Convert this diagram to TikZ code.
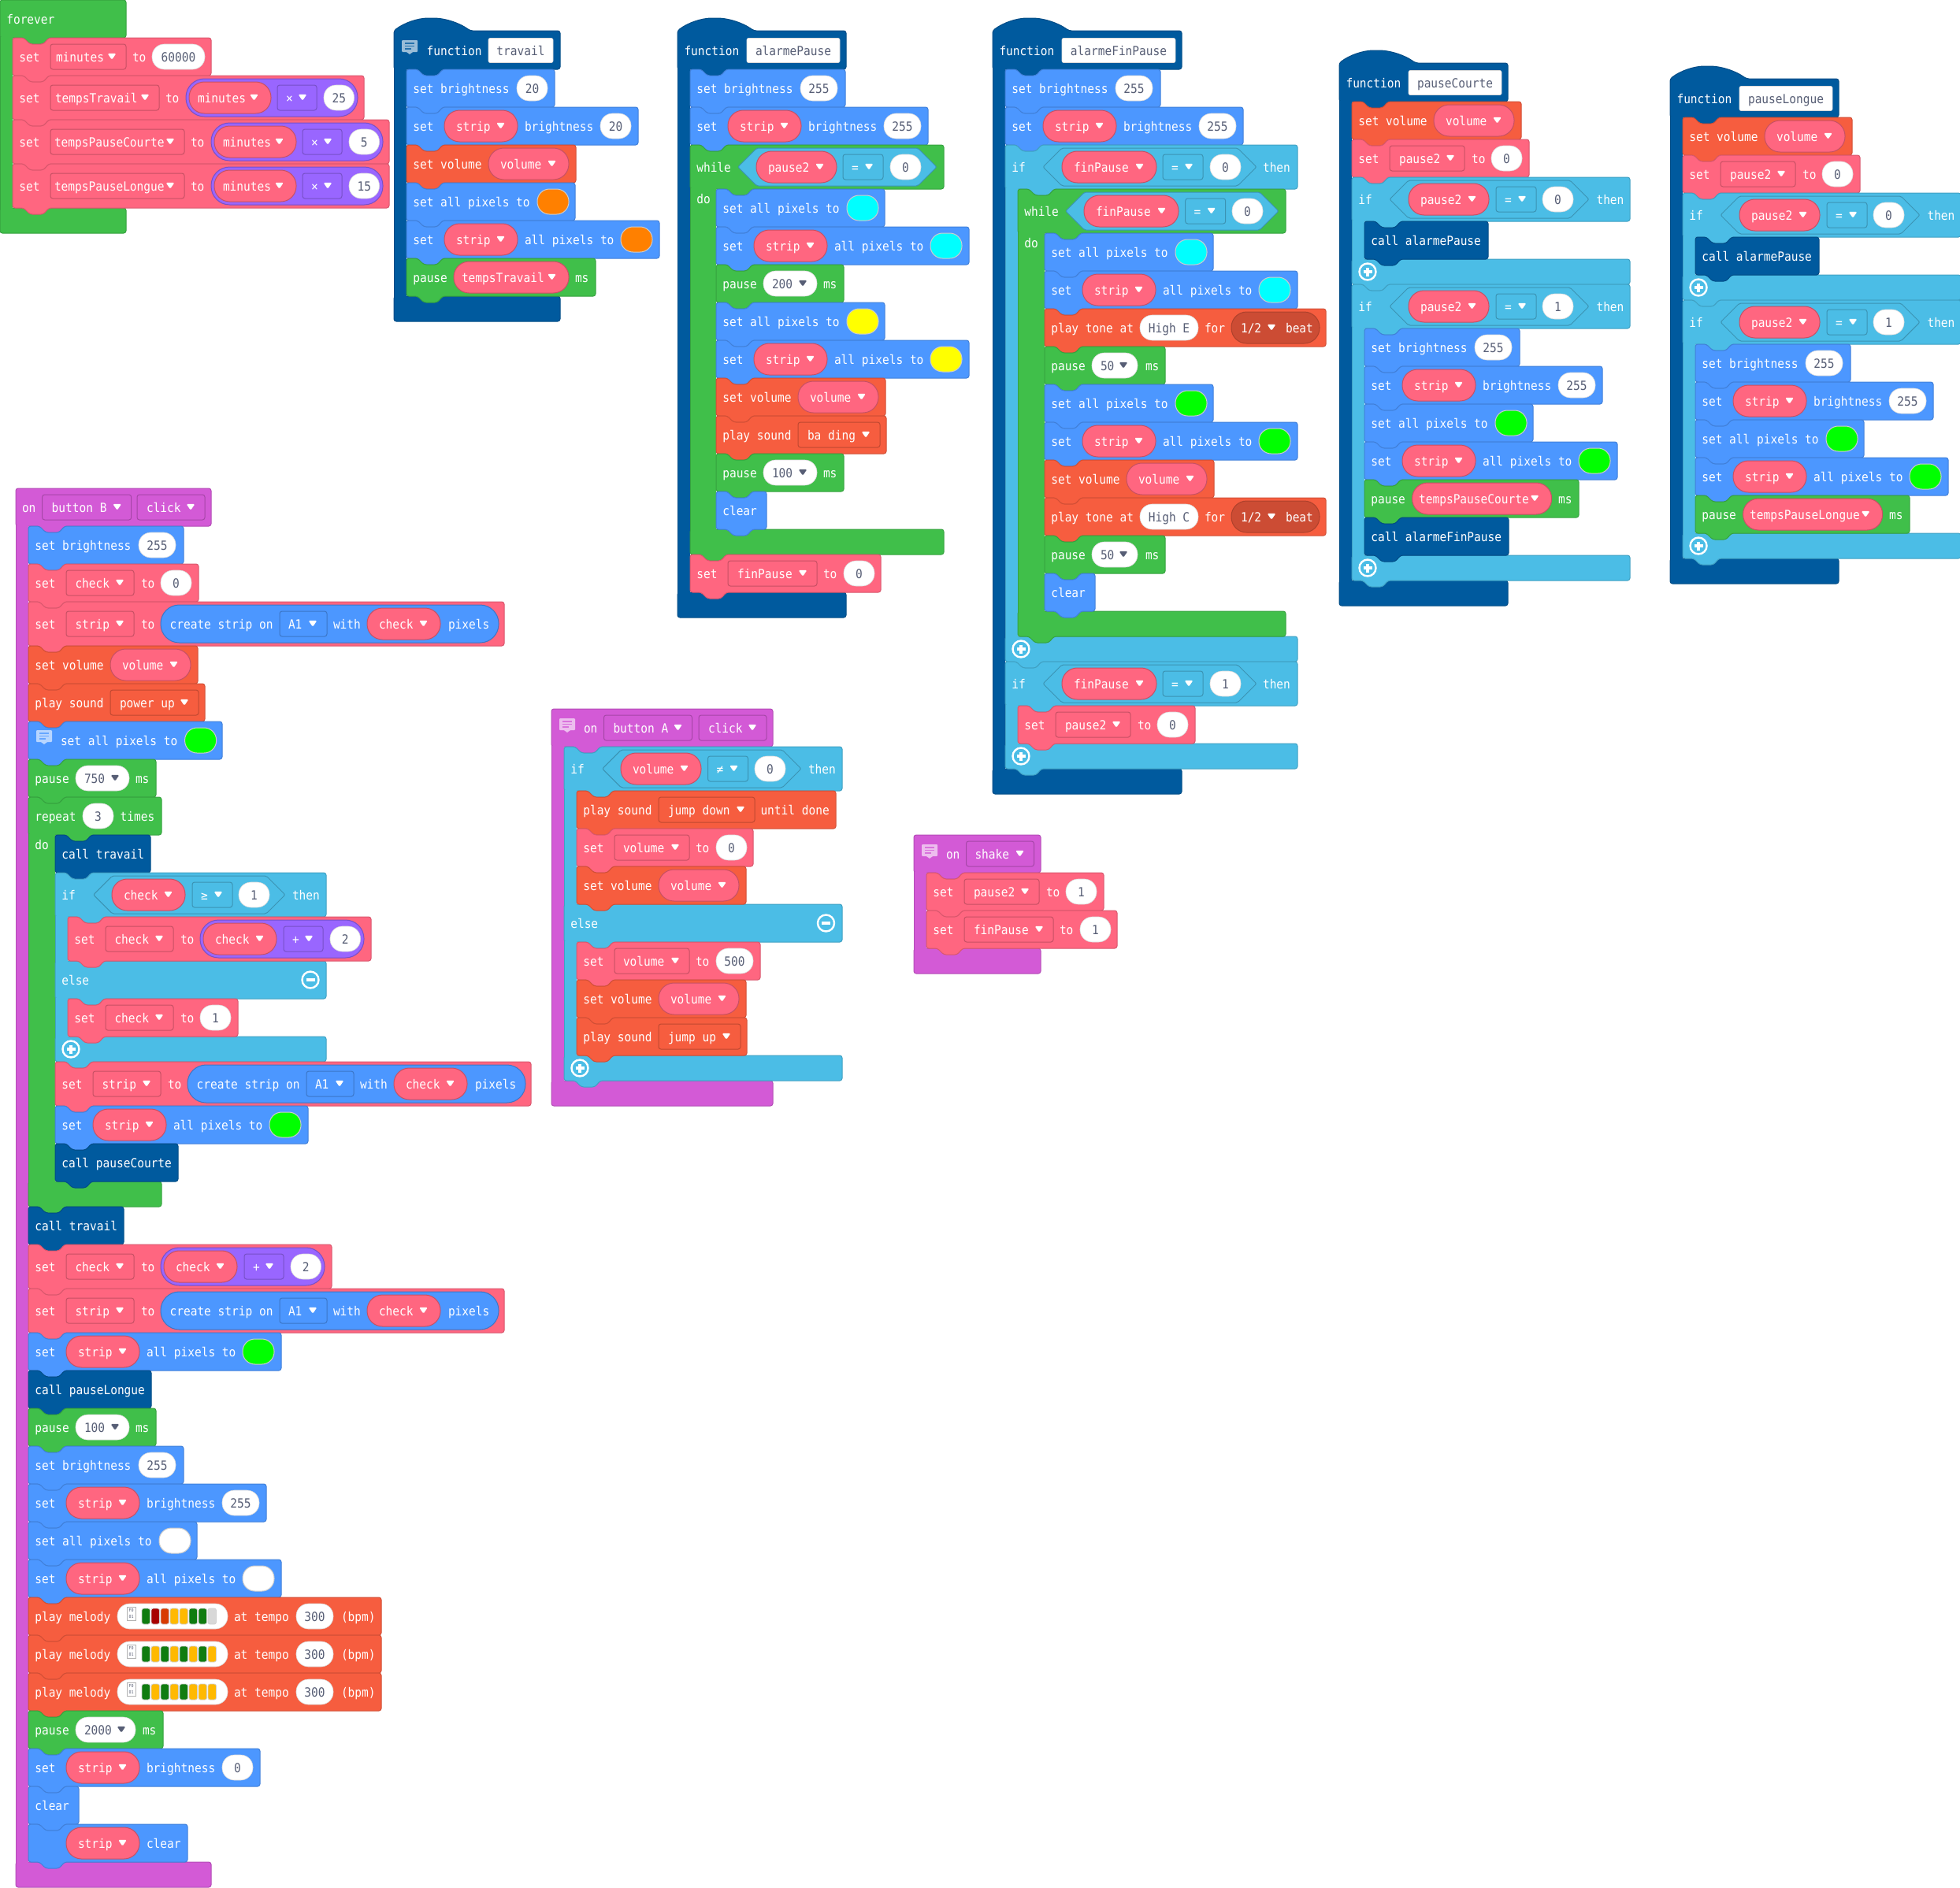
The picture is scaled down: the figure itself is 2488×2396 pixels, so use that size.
\documentclass[tikz,border=0pt]{standalone}
\usepackage{fontspec}
\newfontfamily\monof[FakeStretch=0.906]{DejaVu Sans Mono}
\definecolor{cPink}{HTML}{FF6680}
\definecolor{cPurple}{HTML}{9966FF}
\definecolor{cBlue}{HTML}{4C97FF}
\definecolor{cGreen}{HTML}{40BF4A}
\definecolor{cDark}{HTML}{005A9E}
\definecolor{cMusic}{HTML}{F65D3F}
\definecolor{cBeat}{HTML}{CC4C34}
\definecolor{cCyan}{HTML}{4BBDE6}
\definecolor{cMag}{HTML}{D35AD6}
\definecolor{cGray}{HTML}{575E75}
\definecolor{mG}{HTML}{107C10}
\definecolor{mY}{HTML}{FFB900}
\definecolor{mR}{HTML}{A80000}
\definecolor{mO}{HTML}{D83B01}
\definecolor{mL}{HTML}{D8D8D8}
\definecolor{swC}{HTML}{00FFFF}
\definecolor{swY}{HTML}{FFFF00}
\definecolor{swG}{HTML}{00FF00}
\definecolor{swO}{HTML}{FF8000}
\newcount\nc
\tikzset{
 txt/.style={anchor=base west,inner sep=0pt,outer sep=0pt,text=white,font=\monof\fontsize{16}{18}\selectfont},
 dtxt/.style={anchor=base,inner sep=0pt,outer sep=0pt,text=cGray,font=\monof\fontsize{16}{18}\selectfont},
 dltxt/.style={anchor=base west,inner sep=0pt,outer sep=0pt,text=cGray,font=\monof\fontsize{16}{18}\selectfont},
 tiny/.style={anchor=center,inner sep=0pt,outer sep=0pt,text=cGray,font=\monof\fontsize{5.5}{6}\selectfont},
 numb/.style={fill=white,draw=white!85!black,line width=.6pt,rounded corners=15.5pt},
 pil/.style={fill=cPink,draw=cPink!78!black,line width=1pt,rounded corners=19.5pt},
}
% generic block outline: colour,x,y,w,h,top-notch offset,bottom-tab offset (-1 = none)
\newcommand\BS[7]{%
 \edef\pTop{\ifnum#6<0 \else -- ({#6+14},0) -- ({#6+22},8) -- ({#6+39},8) -- ({#6+46},0)\fi}%
 \edef\pBot{\ifnum#7<0 \else -- ({#7+46},#5) -- ({#7+39},{#5+8}) -- ({#7+22},{#5+8}) -- ({#7+14},#5)\fi}%
 \draw[shift={(#2,#3)},fill=#1,draw=#1!85!black,line width=1pt,rounded corners=3pt] (0,0) \pTop -- (#4,0) -- (#4,#5) \pBot -- (0,#5) -- cycle;}
\newcommand\CH[7]{\BS{#1}{#2}{#3}{#4}{#5}{0}{#6}%
 \begin{scope}[shift={(#2,#3)}]\def\cur{#1}\pgfmathsetmacro\mY{#5/2}#7\end{scope}}
\newcommand\St[6]{\CH{#1}{#2}{#3}{#4}{#5}{0}{#6}}
\newcommand\BR[7]{\BS{#1}{#2}{#3}{#4}{#5}{-1}{#6}%
 \begin{scope}[shift={(#2,#3)}]\def\cur{#1}\pgfmathsetmacro\mY{#5/2}#7\end{scope}}
\newcommand\CL[5]{\fill[#1] ({#2+.5},{#3-1.5}) rectangle ({#2+#5},{#4+1.5});
 \draw[#1!85!black,line width=1pt] (#2,{#3-1}) -- (#2,{#4+1});}
% elements
\newcommand\Tx[2]{\global\advance\nc by1 \node[txt] (n\the\nc) at ({#1},{\mY+6}) {#2};}
\newcommand\TA[3]{\global\advance\nc by1 \node[txt] (n\the\nc) at (#1,#2) {#3};}
\newcommand\Arr[1]{\fill[white,rounded corners=1.5pt] ({#1-.5},{\mY-4.2}) -- ({#1+10.5},{\mY-4.2}) -- ({#1+5},{\mY+3.8}) -- cycle;}
\newcommand\ArrD[1]{\fill[cGray,rounded corners=1.5pt] ({#1-.5},{\mY-4.2}) -- ({#1+10.5},{\mY-4.2}) -- ({#1+5},{\mY+3.8}) -- cycle;}
\newcommand\Nm[3]{\draw[numb] ({#1},{\mY-16}) rectangle ({#1+#2},{\mY+16});
 \global\advance\nc by1 \node[dtxt] (n\the\nc) at ({#1+#2/2},{\mY+6}) {#3};}
\newcommand\NmD[3]{\draw[numb] ({#1},{\mY-16}) rectangle ({#1+#2},{\mY+16});
 \global\advance\nc by1 \node[dltxt] (n\the\nc) at ({#1+11},{\mY+6}) {#3};\ArrD{#1+#2-23}}
\newcommand\DD[4]{\draw[fill=\cur,draw=\cur!78!black,line width=1pt,rounded corners=3pt] ({#1},{\mY-16}) rectangle ({#1+#2},{\mY+16});
 \Tx{#1+#3}{#4}\Arr{#1+#2-23}}
\newcommand\Pill[4]{\draw[pil] ({#1},{\mY-20}) rectangle ({#1+#2},{\mY+20});\Tx{#1+#3}{#4}\Arr{#1+#2-26.5}}
\newcommand\Strip[1]{\Pill{#1}{93}{15}{strip}}
\newcommand\CheckP[1]{\Pill{#1}{93}{15}{check}}
\newcommand\VolP[1]{\Pill{#1}{102}{15}{volume}}
\newcommand\PtP[1]{\Pill{#1}{102}{15}{pause2}}
\newcommand\FnP[1]{\Pill{#1}{120}{15}{finPause}}
\newcommand\Sw[2]{\draw[fill=#2,draw=white!80!black,line width=1pt,rounded corners=15.5pt] ({#1},{\mY-16}) rectangle ({#1+40},{\mY+16});}
\newcommand\Mth[7]{\begin{scope}[xshift=#1]\def\cur{cPurple}
 \draw[fill=cPurple,draw=cPurple!78!black,line width=1pt,rounded corners=23.5pt] (0,{\mY-24}) rectangle (#2,{\mY+24});
 #3\DD{#4}{50}{11}{#5}\Nm{#6}{38.5}{#7}\end{scope}}
\newcommand\Cnd[7]{\draw[fill=cCyan,draw=cCyan!78!black,line width=1pt,rounded corners=2pt] (#1,\mY) -- ({#1+24},{\mY-24}) -- ({#2-24},{\mY-24}) -- (#2,\mY) -- ({#2-24},{\mY+24}) -- ({#1+24},{\mY+24}) -- cycle;
 \begingroup\def\cur{cCyan}#3\DD{#4}{51}{11}{#5}\Nm{#6}{39}{#7}\endgroup}
\newcommand\PlusC{\draw[white,line width=2.4pt] (20,\mY) circle (10.5);
 \draw[white,line width=3.6pt] (14.5,\mY) -- (25.5,\mY) (20,{\mY-5.5}) -- (20,{\mY+5.5});}
\newcommand\MinusC[1]{\draw[white,line width=2.4pt] (#1,\mY) circle (10.5);
 \draw[white,line width=3.6pt] ({#1-5.5},\mY) -- ({#1+5.5},\mY);}
\newcommand\Ico[2]{\begin{scope}[shift={(#1,#2)}]
 \fill[white,opacity=.6,rounded corners=1pt] (0,0) rectangle (20,15);
 \fill[white,opacity=.6] (6,15) -- (10,18) -- (14,15) -- cycle;
 \draw[\cur,line width=1.2pt,opacity=.75] (4,4) -- (16,4) (4,7.5) -- (16,7.5) (4,11) -- (12,11);\end{scope}}
\newcommand\Fld[3]{\draw[fill=white,draw=white!85!black,line width=.6pt,rounded corners=2pt] (#1,{\mY-15.5}) rectangle ({#1+#2},{\mY+15.5});
 \global\advance\nc by1 \node[dtxt] (n\the\nc) at ({#1+#2/2},{\mY+6}) {#3};}
% containers
\newcommand\Evt[6]{\BS{#1}{#2}{#3}{#4}{48}{-1}{16}\BS{#1}{#2}{#5}{#4}{32}{-1}{-1}\CL{#1}{#2}{#3+48}{#5}{16}%
 \begin{scope}[shift={(#2,#3)}]\def\cur{#1}\def\mY{24}#6\end{scope}}
\newcommand\Func[5]{\draw[shift={(#1,#2)},fill=cDark,draw=cDark!85!black,line width=1pt,rounded corners=3pt]
  (0,0) .. controls (13,-10) and (30,-16) .. (47,-16) .. controls (65,-16) and (83,-10) .. (97,0) -- (#3,0) -- (#3,49) -- (62,49) -- (55,57) -- (38,57) -- (30,49) -- (0,49) -- cycle;
 \BS{cDark}{#1}{#4}{#3}{32}{-1}{-1}\CL{cDark}{#1}{#2+49}{#4}{16}%
 \begin{scope}[shift={(#1,#2)}]\def\cur{cDark}\def\mY{25}#5\end{scope}}
\newcommand\IfH[5]{\CH{cCyan}{#1}{#2}{#3}{56}{16}{\Tx{8.3}{if}#4\Tx{#5}{then}}}
% statements
\newcommand\SB[3]{\ifnum#3<100 \St{cBlue}{#1}{#2}{188}{48}{\Tx{8.3}{set brightness}\Nm{140}{39}{#3}}\else\St{cBlue}{#1}{#2}{197}{48}{\Tx{8.3}{set brightness}\Nm{140}{47}{#3}}\fi}
\newcommand\SSB[3]{\ifnum#3<100 \St{cBlue}{#1}{#2}{294}{48}{\Tx{8.3}{set}\Strip{48}\Tx{150}{brightness}\Nm{246}{39}{#3}}\else\St{cBlue}{#1}{#2}{302}{48}{\Tx{8.3}{set}\Strip{48}\Tx{150}{brightness}\Nm{246}{47}{#3}}\fi}
\newcommand\SAP[3]{\St{cBlue}{#1}{#2}{214}{48}{\Tx{8.3}{set all pixels to}\Sw{166}{#3}}}
\newcommand\SSA[3]{\St{cBlue}{#1}{#2}{321}{48}{\Tx{8.3}{set}\Strip{48}\Tx{150}{all pixels to}\Sw{272}{#3}}}
\newcommand\SVol[2]{\St{cMusic}{#1}{#2}{215}{48}{\Tx{8.3}{set volume}\VolP{104}}}
\newcommand\PSnd[5]{\St{cMusic}{#1}{#2}{#5}{48}{\Tx{8.3}{play sound}\DD{104}{#4}{12}{#3}}}
\newcommand\Pz[6]{\St{cGreen}{#1}{#2}{#6}{48}{\Tx{8.3}{pause}\NmD{60}{#4}{#3}\Tx{#5}{ms}}}
\newcommand\Cl[4]{\St{cDark}{#1}{#2}{#4}{48}{\Tx{8.3}{call #3}}}
\newcommand\Clr[2]{\St{cBlue}{#1}{#2}{64}{48}{\Tx{8.3}{clear}}}
\newcommand\SCk[3]{\St{cPink}{#1}{#2}{216}{48}{\Tx{8.3}{set}\DD{48}{86}{11.5}{check}\Tx{143}{to}\Nm{168}{39}{#3}}}
\newcommand\SPt[3]{\St{cPink}{#1}{#2}{225}{48}{\Tx{8.3}{set}\DD{48}{95}{12}{pause2}\Tx{152}{to}\Nm{177}{39}{#3}}}
\newcommand\SFp[3]{\St{cPink}{#1}{#2}{242}{48}{\Tx{8.3}{set}\DD{48}{113}{12}{finPause}\Tx{169}{to}\Nm{195}{39}{#3}}}
\newcommand\SVo[3]{\St{cPink}{#1}{#2}{224}{48}{\Tx{8.3}{set}\DD{48}{95}{11}{volume}\Tx{151}{to}\Nm{177}{39}{#3}}}
\newcommand\SVoF[3]{\St{cPink}{#1}{#2}{233}{48}{\Tx{8.3}{set}\DD{48}{95}{11}{volume}\Tx{151}{to}\Nm{177}{47}{#3}}}
\newcommand\SChkM[2]{\St{cPink}{#1}{#2}{385}{56}{\Tx{8.3}{set}\DD{48}{86}{11.5}{check}\Tx{143}{to}\Mth{168}{208}{\CheckP{4}}{106}{+}{165}{2}}}
\newcommand\Create[2]{\St{cPink}{#1}{#2}{604}{56}{\Tx{8.3}{set}\DD{48}{86}{11.5}{strip}\Tx{143}{to}%
 \begin{scope}[xshift=168]\def\cur{cBlue}\draw[fill=cBlue,draw=cBlue!78!black,line width=1pt,rounded corners=23.5pt] (0,{\mY-24}) rectangle (429,{\mY+24});
 \Tx{11.6}{create strip on}\DD{151}{60}{11}{A1}\Tx{219}{with}\CheckP{262}\Tx{365}{pixels}\end{scope}}}
\newcommand\Tone[3]{\St{cMusic}{#1}{#2}{357}{48}{\Tx{8.3}{play tone at}\Nm{121}{74}{#3}\Tx{203}{for}%
 \draw[fill=cBeat,draw=cBeat!85!black,line width=1pt,rounded corners=19.5pt] (237,{\mY-20}) rectangle (349,{\mY+20});
 \Tx{249}{1/2}\Arr{283}\Tx{306}{beat}}}
\newcommand\Mel[3]{\St{cMusic}{#1}{#2}{448}{48}{\Tx{8.3}{play melody}%
 \draw[numb] (113,{\mY-16}) rectangle (253,{\mY+16});
 \draw[fill=white,draw=black!30,line width=.6pt] (125,{\mY-12}) rectangle (136,{\mY+5});
 \global\advance\nc by1 \node[tiny] (n\the\nc) at (130.5,{\mY-7.5}) {F0};
 \global\advance\nc by1 \node[tiny] (n\the\nc) at (130.5,{\mY+0.5}) {01};
 \foreach \cc [count=\ii] in {#3}{\draw[fill=\cc,draw=black!18,line width=.8pt,rounded corners=2.5pt] ({144+12*(\ii-1)},{\mY-10}) rectangle ({144+12*(\ii-1)+10.5},{\mY+10});}
 \Tx{261}{at tempo}\Nm{340}{47}{300}\Tx{397}{(bpm)}}}
\begin{document}
\begin{tikzpicture}[x=1pt,y=-1pt]
\useasboundingbox (0,0) rectangle (2488,2396);
\fill[white] (0,0) rectangle (2488,2396);
% ---------- forever
\Evt{cGreen}{0}{0}{160}{264}{\Tx{8.3}{forever}}
\St{cPink}{16}{48}{252}{48}{\Tx{8.3}{set}\DD{48}{96}{7}{minutes}\Tx{152}{to}\Nm{177}{67}{60000}}
\St{cPink}{16}{96}{446}{56}{\Tx{8.3}{set}\DD{48}{138}{6}{tempsTravail}\Tx{194}{to}\Mth{220}{218}{\Pill{4}{104}{11}{minutes}}{116}{×}{175}{25}}
\St{cPink}{16}{152}{478}{56}{\Tx{8.3}{set}\DD{48}{170}{5}{tempsPauseCourte}\Tx{226}{to}\Mth{252}{218}{\Pill{4}{104}{11}{minutes}}{116}{×}{175}{5}}
\St{cPink}{16}{208}{478}{56}{\Tx{8.3}{set}\DD{48}{170}{5}{tempsPauseLongue}\Tx{226}{to}\Mth{252}{218}{\Pill{4}{104}{11}{minutes}}{116}{×}{175}{15}}
% ---------- function travail
\Func{500}{39}{211}{376}{\Ico{10}{12}\Tx{41.7}{function}\Fld{120}{82}{travail}}
\SB{516}{88}{20}
\SSB{516}{136}{20}
\SVol{516}{184}
\SAP{516}{232}{swO}
\SSA{516}{280}{swO}
\St{cGreen}{516}{328}{240}{48}{\Tx{8.3}{pause}\Pill{60}{146}{10}{tempsTravail}\Tx{214}{ms}}
% ---------- function alarmePause
\Func{860}{39}{214}{752}{\Tx{8.5}{function}\Fld{88}{118}{alarmePause}}
\SB{876}{88}{255}
\SSB{876}{136}{255}
\CH{cGreen}{876}{184}{322}{56}{33}{\Tx{8.3}{while}\Cnd{60.7}{313}{\PtP{84}}{194}{=}{254}{0}}
\BR{cGreen}{876}{672}{322}{32}{0}{}
\CL{cGreen}{876}{240}{672}{33}
\TA{884.3}{258}{do}
\SAP{909}{240}{swC}
\SSA{909}{288}{swC}
\Pz{909}{336}{200}{68}{136}{162}
\SAP{909}{384}{swY}
\SSA{909}{432}{swY}
\SVol{909}{480}
\PSnd{909}{528}{ba ding}{104}{216}
\Pz{909}{576}{100}{68}{136}{162}
\Clr{909}{624}
\SFp{876}{704}{0}
% ---------- function alarmeFinPause
\Func{1260}{39}{240}{976}{\Tx{8.5}{function}\Fld{88}{144}{alarmeFinPause}}
\SB{1276}{88}{255}
\SSB{1276}{136}{255}
\IfH{1276}{184}{371}{\Cnd{48}{319}{\FnP{72}}{200}{=}{260}{0}}{327}
\BR{cCyan}{1276}{808}{371}{32}{0}{\PlusC}
\CL{cCyan}{1276}{240}{808}{16}
\CH{cGreen}{1292}{240}{340}{56}{34}{\Tx{8.3}{while}\Cnd{60.7}{331}{\FnP{84}}{212.7}{=}{272}{0}}
\BR{cGreen}{1292}{776}{340}{32}{0}{}
\CL{cGreen}{1292}{296}{776}{34}
\TA{1300.3}{314}{do}
\SAP{1326}{296}{swC}
\SSA{1326}{344}{swC}
\Tone{1326}{392}{High E}
\Pz{1326}{440}{50}{58}{128}{153}
\SAP{1326}{488}{swG}
\SSA{1326}{536}{swG}
\SVol{1326}{584}
\Tone{1326}{632}{High C}
\Pz{1326}{680}{50}{58}{128}{153}
\Clr{1326}{728}
\IfH{1276}{840}{371}{\Cnd{48}{319}{\FnP{72}}{200}{=}{260}{1}}{327}
\BR{cCyan}{1276}{944}{371}{32}{0}{\PlusC}
\CL{cCyan}{1276}{896}{944}{16}
\SPt{1292}{896}{0}
% ---------- function pauseCourte
\Func{1700}{80}{214}{737}{\Tx{8.5}{function}\Fld{88}{118}{pauseCourte}}
\SVol{1716}{129}
\SPt{1716}{177}{0}
\IfH{1716}{225}{353}{\Cnd{48}{301}{\PtP{72}}{183}{=}{242}{0}}{310.5}
\BR{cCyan}{1716}{329}{353}{32}{0}{\PlusC}
\CL{cCyan}{1716}{281}{329}{16}
\Cl{1732}{281}{alarmePause}{157}
\IfH{1716}{361}{353}{\Cnd{48}{301}{\PtP{72}}{183}{=}{242}{1}}{310.5}
\BR{cCyan}{1716}{705}{353}{32}{0}{\PlusC}
\CL{cCyan}{1716}{417}{705}{16}
\SB{1732}{417}{255}
\SSB{1732}{465}{255}
\SAP{1732}{513}{swG}
\SSA{1732}{561}{swG}
\St{cGreen}{1732}{609}{272}{48}{\Tx{8.3}{pause}\Pill{60.6}{177}{8.5}{tempsPauseCourte}\Tx{246}{ms}}
\Cl{1732}{657}{alarmeFinPause}{183}
% ---------- function pauseLongue
\Func{2120}{100}{214}{709}{\Tx{8.5}{function}\Fld{88}{118}{pauseLongue}}
\SVol{2136}{149}
\SPt{2136}{197}{0}
\IfH{2136}{245}{353}{\Cnd{48}{301}{\PtP{72}}{183}{=}{242}{0}}{310.5}
\BR{cCyan}{2136}{349}{353}{32}{0}{\PlusC}
\CL{cCyan}{2136}{301}{349}{16}
\Cl{2152}{301}{alarmePause}{157}
\IfH{2136}{381}{353}{\Cnd{48}{301}{\PtP{72}}{183}{=}{242}{1}}{310.5}
\BR{cCyan}{2136}{677}{353}{32}{0}{\PlusC}
\CL{cCyan}{2136}{437}{677}{16}
\SB{2152}{437}{255}
\SSB{2152}{485}{255}
\SAP{2152}{533}{swG}
\SSA{2152}{581}{swG}
\St{cGreen}{2152}{629}{272}{48}{\Tx{8.3}{pause}\Pill{60.6}{177}{8.5}{tempsPauseLongue}\Tx{246}{ms}}
% ---------- on button A
\Evt{cMag}{700}{900}{281}{1372}{\Ico{10}{12}\Tx{41}{on}\DD{66.5}{112}{12}{button A}\DD{187}{86}{12}{click}}
\IfH{716}{948}{353}{\Cnd{48.6}{301}{\VolP{72}}{182.5}{≠}{242}{0}}{310}
\BR{cCyan}{716}{1148}{353}{48}{16}{\Tx{8.3}{else}\MinusC{332.5}}
\BR{cCyan}{716}{1340}{353}{32}{0}{\PlusC}
\CL{cCyan}{716}{1004}{1148}{16}
\CL{cCyan}{716}{1196}{1340}{16}
\St{cMusic}{732}{1004}{329}{48}{\Tx{8.3}{play sound}\DD{104}{122}{12}{jump down}\Tx{233.5}{until done}}
\SVo{732}{1052}{0}
\SVol{732}{1100}
\SVoF{732}{1196}{500}
\SVol{732}{1244}
\PSnd{732}{1292}{jump up}{104}{216}
% ---------- on shake
\Evt{cMag}{1160}{1060}{161}{1204}{\Ico{10}{12}\Tx{41}{on}\DD{66.5}{86}{11}{shake}}
\SPt{1176}{1108}{1}
\SFp{1176}{1156}{1}
% ---------- on button B
\Evt{cMag}{20}{620}{248}{2364}{\Tx{8}{on}\DD{33.7}{113}{12}{button B}\DD{154}{86}{12}{click}}
\SB{36}{668}{255}
\SCk{36}{716}{0}
\Create{36}{764}
\SVol{36}{820}
\PSnd{36}{868}{power up}{112}{224}
\St{cBlue}{36}{916}{246}{48}{\Ico{10}{11}\Tx{41}{set all pixels to}\Sw{198.6}{swG}}
\Pz{36}{964}{750}{68}{136}{162}
\CH{cGreen}{36}{1012}{169}{48}{34}{\Tx{8.3}{repeat}\Nm{69}{39}{3}\Tx{116.6}{times}}
\BR{cGreen}{36}{1500}{169}{32}{0}{}
\CL{cGreen}{36}{1060}{1500}{34}
\TA{44.3}{1078}{do}
\Cl{70}{1060}{travail}{121}
\IfH{70}{1108}{344}{\Cnd{48.6}{292}{\CheckP{72}}{174}{≥}{233}{1}}{301}
\BR{cCyan}{70}{1220}{344}{48}{16}{\Tx{8.3}{else}\MinusC{324}}
\BR{cCyan}{70}{1316}{344}{32}{0}{\PlusC}
\CL{cCyan}{70}{1164}{1220}{16}
\CL{cCyan}{70}{1268}{1316}{16}
\SChkM{86}{1164}
\SCk{86}{1268}{1}
\Create{70}{1348}
\SSA{70}{1404}{swG}
\Cl{70}{1452}{pauseCourte}{156}
\Cl{36}{1532}{travail}{121}
\SChkM{36}{1580}
\Create{36}{1636}
\SSA{36}{1692}{swG}
\Cl{36}{1740}{pauseLongue}{156}
\Pz{36}{1788}{100}{68}{136}{162}
\SB{36}{1836}{255}
\SSB{36}{1884}{255}
\SAP{36}{1932}{white}
\SSA{36}{1980}{white}
\Mel{36}{2028}{mG,mR,mO,mY,mY,mG,mG,mL}
\Mel{36}{2076}{mG,mY,mG,mY,mG,mY,mG,mY}
\Mel{36}{2124}{mG,mY,mG,mY,mG,mY,mY,mY}
\Pz{36}{2172}{2000}{76}{145}{171}
\SSB{36}{2220}{0}
\Clr{36}{2268}
\St{cBlue}{36}{2316}{202}{48}{\Strip{48}\Tx{150}{clear}}
\end{tikzpicture}
\end{document}
